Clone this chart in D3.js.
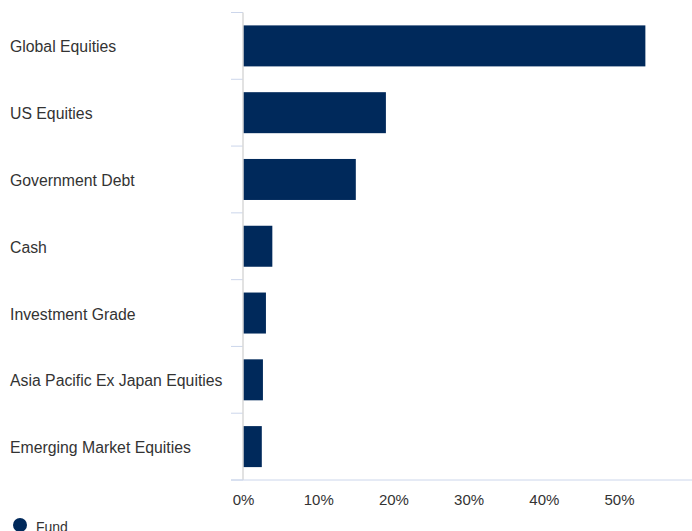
<!DOCTYPE html>
<html>
<head>
<meta charset="utf-8">
<script src="https://cdn.jsdelivr.net/npm/d3@7"></script>
<style>
  body { margin: 0; background: #fff; }
  text { font-family: "Liberation Sans", Arial, sans-serif; }
</style>
</head>
<body>
<div id="chart"></div>
<script>
var svgWidth = 692;
var svgHeight = 531;

var margin = { top: 12.5, right: 0, bottom: 51, left: 243 };

var width = svgWidth - margin.left - margin.right;
var height = svgHeight - margin.top - margin.bottom;

// data
var categories = ["Global Equities", "US Equities", "Government Debt", "Cash",
    "Investment Grade", "Asia Pacific Ex Japan Equities", "Emerging Market Equities"];
var fundValues = [53.5, 19.0, 15.0, 3.9, 3.05, 2.65, 2.5];
var xTicks = [0, 10, 20, 30, 40, 50];
var seriesName = "Fund";

var svg = d3.select("#chart")
    .append("svg")
    .attr("width", svgWidth)
    .attr("height", svgHeight);

var chartGroup = svg.append("g")
    .attr("transform", `translate(${margin.left}, ${margin.top})`);

var xScale = d3.scaleLinear()
    .domain([0, 59.7])
    .range([0, width]);

var yScale = d3.scaleBand()
    .domain(categories)
    .range([0, height]);

var step = yScale.step();
var barHeight = 41;

// category ticks on the band boundaries
var bounds = d3.range(categories.length + 1).map(function(i) { return i * step; });
chartGroup.selectAll(".cat-tick")
    .data(bounds)
    .enter()
    .append("line")
    .attr("x1", -12)
    .attr("x2", 0)
    .attr("y1", function(d) { return d; })
    .attr("y2", function(d) { return d; })
    .attr("stroke", "#ccd6eb")
    .attr("stroke-width", 1);

// category labels
chartGroup.selectAll(".cat-label")
    .data(categories)
    .enter()
    .append("text")
    .attr("x", 10 - margin.left)
    .attr("y", function(d) { return yScale(d) + step / 2 + 1; })
    .attr("dy", "0.35em")
    .attr("font-size", "15.8px")
    .attr("fill", "#333333")
    .text(function(d) { return d; });

// bars
chartGroup.selectAll(".bar")
    .data(fundValues)
    .enter()
    .append("rect")
    .attr("x", xScale(0))
    .attr("y", function(d, i) { return yScale(categories[i]) + step / 2 - barHeight / 2; })
    .attr("width", function(d) { return xScale(d) - xScale(0); })
    .attr("height", barHeight)
    .attr("fill", "#00295b");

// y axis line
chartGroup.append("line")
    .attr("x1", 0).attr("x2", 0)
    .attr("y1", 0).attr("y2", height)
    .attr("stroke", "#d8d8d8")
    .attr("stroke-width", 1.5);

// x axis
var bottomAxis = d3.axisBottom(xScale)
    .tickValues(xTicks)
    .tickSize(0)
    .tickPadding(14)
    .tickFormat(function(d) { return d + "%"; });

var xAxisGroup = chartGroup.append("g")
    .attr("transform", `translate(0, ${height})`)
    .call(bottomAxis);

xAxisGroup.select(".domain").remove();
xAxisGroup.append("line")
    .attr("x1", -12).attr("x2", width)
    .attr("y1", 0).attr("y2", 0)
    .attr("stroke", "#ccd6eb");
xAxisGroup.selectAll("text")
    .attr("font-size", "15px")
    .attr("fill", "#333333")
    .attr("font-family", "Liberation Sans, Arial, sans-serif");

// legend (cut by the bottom edge, as in the reference)
var legend = svg.append("g")
    .attr("transform", "translate(20, 525)");
legend.append("circle")
    .attr("r", 7)
    .attr("fill", "#00295b");
legend.append("text")
    .attr("x", 16)
    .attr("y", 7)
    .attr("font-size", "14px")
    .attr("fill", "#333333")
    .text(seriesName);
</script>
</body>
</html>
